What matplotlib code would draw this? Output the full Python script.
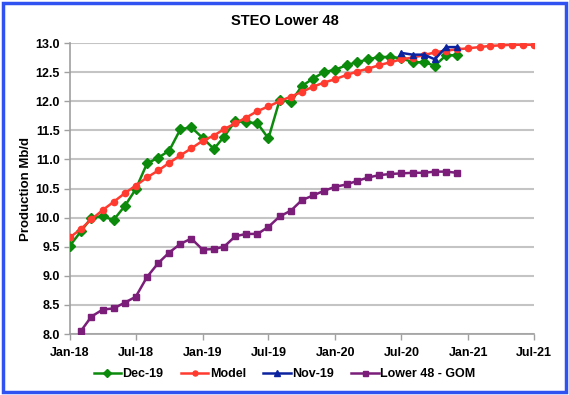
import pandas as pd
import numpy as np
import matplotlib
matplotlib.use('Agg')
import matplotlib.pyplot as plt
import matplotlib.dates as mdates
from matplotlib.patches import Rectangle

plt.rcParams['font.family'] = ['Liberation Sans', 'DejaVu Sans']
plt.rcParams['font.weight'] = 'bold'

# Monthly values (Mb/d)
model_start = '2018-01-01'
model = [9.66, 9.81, 9.97, 10.13, 10.27, 10.42, 10.55, 10.69, 10.81, 10.94, 11.07, 11.19,
         11.32, 11.41, 11.52, 11.62, 11.72, 11.83, 11.91, 12.00, 12.08, 12.16, 12.25, 12.32,
         12.38, 12.45, 12.51, 12.56, 12.62, 12.67, 12.72, 12.75, 12.79, 12.84, 12.87, 12.89,
         12.91, 12.93, 12.95, 12.96, 12.97, 12.97, 12.97]

dec19_start = '2018-01-01'
dec19 = [9.52, 9.77, 10.00, 10.02, 9.96, 10.20, 10.49, 10.93, 11.03, 11.15, 11.52, 11.55,
         11.37, 11.18, 11.39, 11.66, 11.64, 11.62, 11.36, 12.02, 11.99, 12.26, 12.39, 12.50,
         12.54, 12.62, 12.67, 12.72, 12.76, 12.76, 12.74, 12.67, 12.67, 12.61, 12.79, 12.79]

nov19_start = '2020-07-01'
nov19 = [12.83, 12.80, 12.80, 12.72, 12.93, 12.93]

gom_start = '2018-02-01'
lower48_gom = [8.06, 8.30, 8.42, 8.44, 8.54, 8.64, 8.98, 9.22, 9.40, 9.55, 9.64,
               9.45, 9.46, 9.50, 9.68, 9.72, 9.72, 9.84, 10.02, 10.12, 10.30, 10.38, 10.46,
               10.53, 10.57, 10.63, 10.69, 10.73, 10.75, 10.76, 10.77, 10.77, 10.79, 10.79, 10.77]


def months(start, vals):
    return pd.date_range(start, periods=len(vals), freq='MS')


fig = plt.figure(figsize=(5.69, 3.95), dpi=100)
ax = fig.add_axes([0.123, 0.1544, 0.8155, 0.7367])

ax.plot(months(dec19_start, dec19), dec19, color='#0c8a0c', lw=1.8, marker='D', ms=4.8,
        label='Dec-19', zorder=3)
ax.plot(months(model_start, model), model, color='#ff3a2e', lw=1.8, marker='o', ms=4.5,
        label='Model', zorder=4)
ax.plot(months(nov19_start, nov19), nov19, color='#0c23a0', lw=1.8, marker='^', ms=5,
        label='Nov-19', zorder=5)
ax.plot(months(gom_start, lower48_gom), lower48_gom, color='#7a1e7a', lw=1.8, marker='s', ms=4.5,
        label='Lower 48 - GOM', zorder=3)

ax.set_xlim(pd.Timestamp('2018-01-01'), pd.Timestamp('2021-07-01'))
ax.set_ylim(8.0, 13.0)
ax.set_yticks(np.arange(8.0, 13.01, 0.5))
ax.yaxis.set_major_formatter(plt.FormatStrFormatter('%.1f'))
ax.xaxis.set_major_locator(mdates.MonthLocator(bymonth=[1, 7]))
ax.xaxis.set_major_formatter(mdates.DateFormatter('%b-%y'))

ax.grid(axis='y', color='#c4c4c4', lw=1.5)
ax.set_axisbelow(True)
for s in ['top', 'right']:
    ax.spines[s].set_visible(False)
for s in ['left', 'bottom']:
    ax.spines[s].set_color('#a0a0a0')
    ax.spines[s].set_linewidth(1.2)
ax.tick_params(axis='both', colors='#a0a0a0', labelcolor='black', labelsize=9, length=4, width=1)
ax.tick_params(axis='x', pad=5)
for lbl in ax.get_xticklabels() + ax.get_yticklabels():
    lbl.set_fontweight('bold')

ax.set_ylabel('Production Mb/d', fontsize=9.5, fontweight='bold', labelpad=2)
fig.text(0.5, 0.948, 'STEO Lower 48', ha='center', va='center', fontsize=10.5, fontweight='bold')

fig.legend(loc='center', bbox_to_anchor=(0.5, 0.053), ncol=4, frameon=False,
           handlelength=2.2, handletextpad=0.1, columnspacing=1.4,
           markerscale=0.8, prop={'weight': 'bold', 'size': 9})

fig.patches.append(Rectangle((0.005, 0.008), 0.99, 0.984, transform=fig.transFigure,
                             fill=False, edgecolor='#2f52f0', lw=2.5))

fig.savefig('out.png', dpi=100)
